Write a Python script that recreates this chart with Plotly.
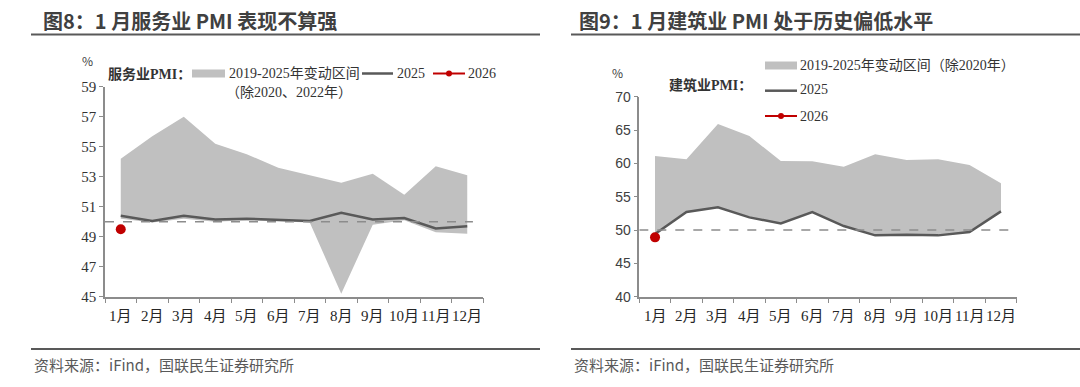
import plotly.graph_objects as go

months = ["1月", "2月", "3月", "4月", "5月", "6月", "7月", "8月", "9月", "10月", "11月", "12月"]

# Left: services PMI
svc_upper = [54.2, 55.7, 57.0, 55.2, 54.5, 53.6, 53.1, 52.6, 53.2, 51.8, 53.7, 53.1]
svc_lower = [50.2, 49.95, 50.2, 50.0, 50.1, 50.0, 49.95, 45.2, 49.8, 50.1, 49.3, 49.2]
svc_2025 = [50.4, 50.05, 50.4, 50.15, 50.2, 50.15, 50.05, 50.6, 50.15, 50.25, 49.55, 49.7]
svc_2026 = [49.5]

# Right: construction PMI
con_upper = [61.1, 60.6, 65.9, 64.1, 60.35, 60.3, 59.5, 61.35, 60.5, 60.6, 59.75, 57.0]
con_lower = [49.4, 52.7, 53.4, 51.9, 51.0, 52.7, 50.6, 49.2, 49.3, 49.2, 49.7, 52.8]
con_2025 = [49.4, 52.7, 53.4, 51.9, 51.0, 52.7, 50.6, 49.2, 49.3, 49.2, 49.7, 52.8]
con_2026 = [48.9]

W, H = 1080, 387
def px(x): return x / W
def py(y): return 1 - y / H

BAND = "#c0c0c0"
LINE = "#595959"
RED = "#c00000"
AX = "#8c8c8c"
SERIF = "Liberation Serif, Times New Roman, Noto Sans CJK SC"
SANS = "Noto Sans CJK SC, Liberation Sans, sans-serif"

xs = list(range(12))
fig = go.Figure()

def add_panel(xa, ya, upper, lower, s25, s26):
    fig.add_trace(go.Scatter(x=xs, y=lower, mode="lines", line=dict(width=0, color=BAND),
                             xaxis=xa, yaxis=ya, showlegend=False, hoverinfo="skip"))
    fig.add_trace(go.Scatter(x=xs, y=upper, mode="lines", line=dict(width=0, color=BAND),
                             fill="tonexty", fillcolor=BAND, xaxis=xa, yaxis=ya,
                             showlegend=False, hoverinfo="skip"))
    fig.add_trace(go.Scatter(x=xs, y=s25, mode="lines", line=dict(width=2.5, color=LINE),
                             xaxis=xa, yaxis=ya, showlegend=False))
    fig.add_trace(go.Scatter(x=xs[:len(s26)], y=s26, mode="markers+lines",
                             marker=dict(size=10, color=RED), line=dict(color=RED, width=2),
                             xaxis=xa, yaxis=ya, showlegend=False))

add_panel("x", "y", svc_upper, svc_lower, svc_2025, svc_2026)
add_panel("x2", "y2", con_upper, con_lower, con_2025, con_2026)

xcommon = dict(range=[-0.5, 11.5], tickmode="array", tickvals=[i - 0.5 for i in range(13)],
               ticktext=[""] * 13, showgrid=False, zeroline=False, showline=True,
               linecolor=AX, linewidth=1.5, ticks="outside", ticklen=5, tickcolor=AX,
               automargin=False)
ycommon = dict(showgrid=False, zeroline=False, showline=True, linecolor=AX, linewidth=1.5,
               ticks="outside", ticklen=4, tickcolor=AX, automargin=False)

fig.update_layout(
    width=W, height=H, margin=dict(l=0, r=0, t=0, b=0, autoexpand=False),
    paper_bgcolor="white", plot_bgcolor="white", showlegend=False,
    xaxis=dict(domain=[px(105), px(483)], anchor="y", **xcommon),
    yaxis=dict(domain=[py(296.7), py(86.7)], range=[45, 59], dtick=2, tick0=45, anchor="x",
               tickfont=dict(family=SERIF, size=15, color="#333333"), **ycommon),
    xaxis2=dict(domain=[px(639.3), px(1016.7)], anchor="y2", **xcommon),
    yaxis2=dict(domain=[py(296.7), py(96.7)], range=[40, 70], dtick=5, tick0=40, anchor="x2",
                tickfont=dict(family="Liberation Sans, Arial", size=14, color="#404040"), **ycommon),
)

shapes = []
ann = []

# month labels (centered on categories)
for xa in ("x", "x2"):
    for i, m in enumerate(months):
        ann.append(dict(x=i, y=py(316), xref=xa, yref="paper", yanchor="middle",
                        text=m, showarrow=False,
                        font=dict(family=SERIF, size=15, color="#262626")))

# dashed 50 reference lines
shapes.append(dict(type="line", xref="x", yref="y", x0=-0.5, x1=11.18, y0=50, y1=50,
                   line=dict(color="#8c8c8c", width=1.5, dash="dash")))
shapes.append(dict(type="line", xref="x2", yref="y2", x0=-0.5, x1=11.27, y0=50, y1=50,
                   line=dict(color="#8c8c8c", width=1.5, dash="dash")))

# titles + underlines
ann.append(dict(x=px(41), y=py(20), xref="paper", yref="paper", xanchor="left", yanchor="middle",
                text="<b>图8：1 月服务业 PMI 表现不算强</b>", showarrow=False,
                font=dict(family=SANS, size=20, color="#404040")))
ann.append(dict(x=px(577), y=py(20), xref="paper", yref="paper", xanchor="left", yanchor="middle",
                text="<b>图9：1 月建筑业 PMI 处于历史偏低水平</b>", showarrow=False,
                font=dict(family=SANS, size=20, color="#404040")))
for x0, x1 in ((31, 540), (571, 1080)):
    shapes.append(dict(type="line", xref="paper", yref="paper", x0=px(x0), x1=px(x1),
                       y0=py(34.5), y1=py(34.5), line=dict(color="#595959", width=2)))
    shapes.append(dict(type="line", xref="paper", yref="paper", x0=px(x0), x1=px(x1),
                       y0=py(349), y1=py(349), line=dict(color="#595959", width=2)))

# sources
for x0 in (31, 571):
    ann.append(dict(x=px(x0 + 1), y=py(364), xref="paper", yref="paper", xanchor="left",
                    yanchor="middle", text="资料来源：iFind，国联民生证券研究所", showarrow=False,
                    font=dict(family=SANS, size=15, color="#595959")))

# % labels
ann.append(dict(x=px(87), y=py(60), xref="paper", yref="paper", xanchor="center", yanchor="middle",
                text="%", showarrow=False, font=dict(family=SANS, size=12, color="#404040")))
ann.append(dict(x=px(617), y=py(72), xref="paper", yref="paper", xanchor="center", yanchor="middle",
                text="%", showarrow=False, font=dict(family=SANS, size=12, color="#404040")))

LF = dict(family=SERIF, size=14, color="#333333")

# left legend
ann.append(dict(x=px(106), y=py(73.5), xref="paper", yref="paper", xanchor="left", yanchor="middle",
                text="<b>服务业PMI：</b>", showarrow=False, font=LF))
shapes.append(dict(type="rect", xref="paper", yref="paper", x0=px(192), x1=px(225),
                   y0=py(77.5), y1=py(69.5), fillcolor=BAND, line=dict(width=0)))
ann.append(dict(x=px(227), y=py(73.5), xref="paper", yref="paper", xanchor="left", yanchor="middle",
                text="2019-2025年变动区间", showarrow=False, font=LF))
ann.append(dict(x=px(289), y=py(92), xref="paper", yref="paper", xanchor="center", yanchor="middle",
                text="（除2020、2022年）", showarrow=False, font=LF))
shapes.append(dict(type="line", xref="paper", yref="paper", x0=px(362), x1=px(393),
                   y0=py(73.5), y1=py(73.5), line=dict(color=LINE, width=2.5)))
ann.append(dict(x=px(395), y=py(73.5), xref="paper", yref="paper", xanchor="left", yanchor="middle",
                text="2025", showarrow=False, font=LF))
shapes.append(dict(type="line", xref="paper", yref="paper", x0=px(433), x1=px(465),
                   y0=py(73.5), y1=py(73.5), line=dict(color=RED, width=2)))
shapes.append(dict(type="circle", xref="paper", yref="paper", x0=px(446), x1=px(452),
                   y0=py(76.5), y1=py(70.5), fillcolor=RED, line=dict(width=0)))
ann.append(dict(x=px(466), y=py(73.5), xref="paper", yref="paper", xanchor="left", yanchor="middle",
                text="2026", showarrow=False, font=LF))

# right legend
shapes.append(dict(type="rect", xref="paper", yref="paper", x0=px(765), x1=px(797),
                   y0=py(69.5), y1=py(61.5), fillcolor=BAND, line=dict(width=0)))
ann.append(dict(x=px(798), y=py(65.5), xref="paper", yref="paper", xanchor="left", yanchor="middle",
                text="2019-2025年变动区间（除2020年）", showarrow=False, font=LF))
ann.append(dict(x=px(667), y=py(85), xref="paper", yref="paper", xanchor="left", yanchor="middle",
                text="<b>建筑业PMI：</b>", showarrow=False, font=LF))
shapes.append(dict(type="line", xref="paper", yref="paper", x0=px(765), x1=px(797),
                   y0=py(90.7), y1=py(90.7), line=dict(color=LINE, width=2.5)))
ann.append(dict(x=px(798), y=py(90), xref="paper", yref="paper", xanchor="left", yanchor="middle",
                text="2025", showarrow=False, font=LF))
shapes.append(dict(type="line", xref="paper", yref="paper", x0=px(765), x1=px(797),
                   y0=py(116), y1=py(116), line=dict(color=RED, width=2)))
shapes.append(dict(type="circle", xref="paper", yref="paper", x0=px(778), x1=px(784),
                   y0=py(119), y1=py(113), fillcolor=RED, line=dict(width=0)))
ann.append(dict(x=px(798), y=py(116), xref="paper", yref="paper", xanchor="left", yanchor="middle",
                text="2026", showarrow=False, font=LF))

fig.update_layout(shapes=shapes, annotations=ann)
fig.write_html("out.html", config={"displayModeBar": False},
               post_script="document.body.style.margin='0';document.body.style.padding='0';"
                           "document.documentElement.style.overflow='hidden';")
